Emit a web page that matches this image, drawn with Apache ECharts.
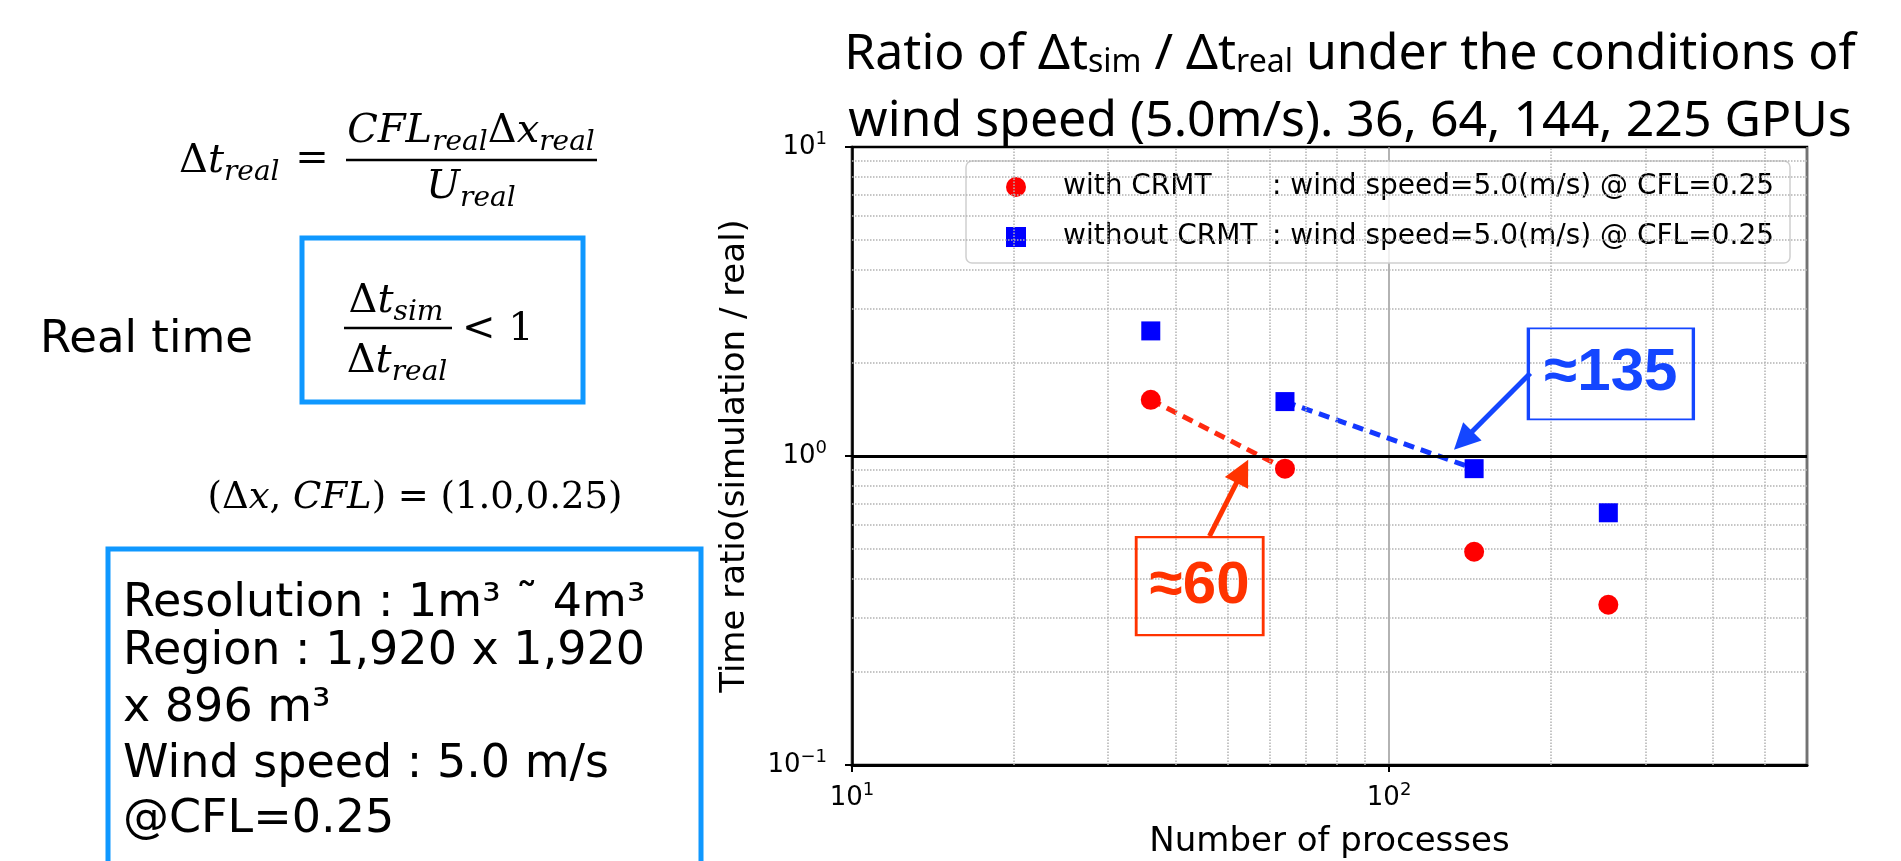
<!DOCTYPE html>
<html>
<head>
<meta charset="utf-8">
<title>Time ratio vs number of processes</title>
<script src="https://cdn.jsdelivr.net/npm/echarts@6/dist/echarts.min.js"></script>
<style>
  html, body { margin: 0; padding: 0; background: #fff; }
  #chart { width: 1901px; height: 861px; }
</style>
</head>
<body>
<div id="chart"></div>
<script>
// data
var processes = [36, 64, 144, 256];
var ratioWithCrmt = [1.52, 0.91, 0.49, 0.33];
var ratioWithoutCrmt = [2.54, 1.50, 0.91, 0.655];
var seriesNames = ['with CRMT', 'without CRMT'];
var legendTail = ': wind speed=5.0(m/s) @ CFL=0.25';

// grid lines / ticks
var xMinorGrid = [20, 30, 40, 50, 60, 70, 80, 90, 200, 300, 400, 500];
var yMinorGrid = [0.2, 0.3, 0.4, 0.5, 0.6, 0.7, 0.8, 0.9, 2, 3, 4, 5, 6, 7, 8, 9];
var realTimeLevel = [1];

// annotations (data coordinates)
var note60Text = '≈60';
var note60Box = [44.4, 0.379];
var note60Arrow = [[46.3, 0.55], [53.3, 0.892]];
var note135Text = '≈135';
var note135Box = [258.8, 1.845];
var note135Arrow = [[183.2, 1.852], [137.4, 1.122]];

function zip(xs, ys) {
  return xs.map(function (x, i) { return [x, ys[i]]; });
}

function powLabel(v) {
  var e = Math.round(Math.log10(v));
  if (Math.abs(Math.log10(v) - e) > 1e-6) return '';
  return '{b|10}{e|' + (e < 0 ? '\u2212' + (-e) : e) + '}';
}

var tickRich = {
  b: { fontFamily: 'DejaVu Sans', fontSize: 26, color: '#000' },
  e: { fontFamily: 'DejaVu Sans', fontSize: 18, color: '#000', padding: [0, 0, 16, 0] }
};

var mathRich = {
  m: { fontFamily: 'DejaVu Serif', fontSize: 40, fill: '#000', color: '#000' },
  i: { fontFamily: 'DejaVu Serif', fontStyle: 'italic', fontSize: 40, fill: '#000', color: '#000' },
  s: { fontFamily: 'DejaVu Serif', fontStyle: 'italic', fontSize: 28, fill: '#000', color: '#000', padding: [22, 0, 0, 0] }
};

var smallMathRich = {
  m: { fontFamily: 'DejaVu Serif', fontSize: 37, fill: '#000', color: '#000' },
  i: { fontFamily: 'DejaVu Serif', fontStyle: 'italic', fontSize: 37, fill: '#000', color: '#000' }
};

var titleRich = {
  u: { fontFamily: 'Noto Sans', fontSize: 32, fill: '#000', color: '#000', padding: [15, 0, 0, 0] }
};

function txt(x, y, text, opts) {
  opts = opts || {};
  var align = opts.align || 'left';
  return {
    type: 'text',
    x: x,
    y: y,
    silent: true,
    style: {
      text: text,
      fill: opts.color || '#000',
      fontFamily: opts.family || 'DejaVu Sans',
      fontSize: opts.size || 40,
      fontStyle: opts.style || 'normal',
      align: align,
      verticalAlign: 'middle',
      textAlign: align,
      textVerticalAlign: 'middle',
      rich: opts.rich
    }
  };
}

function bar(x1, x2, y) {
  return {
    type: 'line', silent: true,
    shape: { x1: x1, y1: y, x2: x2, y2: y },
    style: { stroke: '#000', lineWidth: 2.5 }
  };
}

function box(x, y, w, h) {
  return {
    type: 'rect', silent: true,
    shape: { x: x, y: y, width: w, height: h },
    style: { fill: 'none', stroke: '#0f98ff', lineWidth: 5 }
  };
}

var slideText = [
  // title
  txt(1350, 55, 'Ratio of \u0394t{u|sim} / \u0394t{u|real} under the conditions of',
    { align: 'center', family: 'Noto Sans', size: 50, rich: titleRich }),
  txt(1350, 122, 'wind speed (5.0m/s). 36, 64, 144, 225 GPUs',
    { align: 'center', family: 'Noto Sans', size: 50 }),

  // dt_real formula
  txt(179, 162, '{m|\u0394}{i|t}{s|real}', { rich: mathRich }),
  txt(312, 160, '{m|=}', { align: 'center', rich: mathRich }),
  txt(471, 132, '{i|CFL}{s|real}{m|\u0394}{i|x}{s|real}', { align: 'center', rich: mathRich }),
  bar(346, 597, 160),
  txt(471, 188, '{i|U}{s|real}', { align: 'center', rich: mathRich }),

  // real time condition
  txt(40, 340, 'Real time', { size: 45 }),
  box(302, 238, 281, 164),
  txt(396, 302, '{m|\u0394}{i|t}{s|sim}', { align: 'center', rich: mathRich }),
  bar(344, 452, 328),
  txt(397, 362, '{m|\u0394}{i|t}{s|real}', { align: 'center', rich: mathRich }),
  txt(462, 330, '{m|< 1}', { rich: mathRich }),

  txt(415, 498, '{m|(\u0394}{i|x}{m|, }{i|CFL}{m|) = (1.0,0.25)}', { align: 'center', rich: smallMathRich }),

  // run settings
  box(108, 549, 593, 400),
  txt(123, 604, 'Resolution : 1m\u00b3 \u02dc 4m\u00b3', { size: 46 }),
  txt(123, 652, 'Region : 1,920 x 1,920', { size: 46 }),
  txt(123, 709, 'x 896 m\u00b3', { size: 46 }),
  txt(123, 765, 'Wind speed : 5.0 m/s', { size: 46 }),
  txt(123, 820, '@CFL=0.25', { size: 46 })
];

var chart = echarts.init(document.getElementById('chart'), null, { renderer: 'canvas' });

chart.setOption({
  animation: false,
  backgroundColor: '#fff',
  graphic: slideText,
  grid: {
    left: 852, top: 147, right: 94, bottom: 96,
    containLabel: false,
    outerBoundsMode: 'none',
    show: true, borderColor: '#000', borderWidth: 2.5,
    backgroundColor: 'rgba(0,0,0,0)'
  },
  legend: {
    data: seriesNames,
    orient: 'vertical',
    left: 966, top: 161,
    padding: [12, 16, 12, 40],
    itemWidth: 20, itemHeight: 20, itemGap: 22,
    backgroundColor: 'rgba(255,255,255,0.8)',
    borderColor: '#cfcfcf', borderWidth: 1.5, borderRadius: 6,
    selectedMode: false,
    itemStyle: { opacity: 1 },
    formatter: function (name) { return '{a|' + name + '}{b|' + legendTail + '}'; },
    textStyle: {
      fontFamily: 'DejaVu Sans', fontSize: 28, color: '#000',
      rich: {
        a: { fontFamily: 'DejaVu Sans', fontSize: 28, color: '#000', width: 209, padding: [0, 0, 0, 32] },
        b: { fontFamily: 'DejaVu Sans', fontSize: 28, color: '#000' }
      }
    }
  },
  xAxis: {
    type: 'log', logBase: 10, min: 10, max: 600,
    name: 'Number of processes', nameLocation: 'middle', nameGap: 60,
    nameTextStyle: { fontFamily: 'DejaVu Sans', fontSize: 34, color: '#000' },
    axisLine: { show: true, lineStyle: { color: '#000', width: 3 } },
    axisTick: { show: true, length: 7, lineStyle: { color: '#000', width: 2 } },
    axisLabel: { margin: 16, formatter: powLabel, rich: tickRich, showMinLabel: true, showMaxLabel: false },
    splitLine: { show: true, lineStyle: { color: '#9a9a9a', width: 1.5, type: 'solid' } }
  },
  yAxis: {
    type: 'log', logBase: 10, min: 0.1, max: 10,
    name: 'Time ratio(simulation / real)', nameLocation: 'middle', nameGap: 100,
    nameTextStyle: { fontFamily: 'DejaVu Sans', fontSize: 34, color: '#000' },
    axisLine: { show: true, lineStyle: { color: '#000', width: 2.5 } },
    axisTick: { show: true, length: 7, lineStyle: { color: '#000', width: 2 } },
    axisLabel: { margin: 25, formatter: powLabel, rich: tickRich, showMinLabel: true, showMaxLabel: true },
    splitLine: { show: false }
  },
  series: [
    {
      name: 'minor-grid', type: 'line', data: [], silent: true, z: 1,
      markLine: {
        silent: true, symbol: 'none', animation: false,
        label: { show: false },
        lineStyle: { color: '#b3b3b3', type: 'dotted', width: 1.5 },
        data: xMinorGrid.map(function (v) { return { xAxis: v }; })
          .concat(yMinorGrid.map(function (v) { return { yAxis: v }; }))
      }
    },
    {
      name: 'real-time', type: 'line', data: [], silent: true, z: 2,
      markLine: {
        silent: true, symbol: 'none', animation: false,
        label: { show: false },
        lineStyle: { color: '#000', type: 'solid', width: 3 },
        data: realTimeLevel.map(function (v) { return { yAxis: v }; })
      }
    },
    {
      name: 'crmt-trend', type: 'line', z: 3, silent: true,
      data: zip(processes, ratioWithCrmt).slice(0, 2),
      symbol: 'none',
      lineStyle: { color: '#ff2a10', width: 5, type: [11, 7] },
      markLine: {
        silent: true, animation: false,
        symbol: ['none', 'triangle'], symbolSize: 26,
        label: { show: false },
        itemStyle: { color: '#ff3300' },
        lineStyle: { color: '#ff3300', type: 'solid', width: 5 },
        data: [[{ coord: note60Arrow[0] }, { coord: note60Arrow[1] }]]
      },
      markPoint: {
        silent: true, animation: false,
        symbol: 'rect', symbolSize: [127, 98],
        itemStyle: { color: 'rgba(255,255,255,0)', borderColor: '#ff3300', borderWidth: 2.5 },
        label: {
          show: true, position: 'inside', formatter: note60Text,
          color: '#ff3300', fontFamily: 'Liberation Sans', fontWeight: 'bold', fontSize: 60
        },
        data: [{ coord: note60Box }]
      }
    },
    {
      name: 'plain-trend', type: 'line', z: 3, silent: true,
      data: zip(processes, ratioWithoutCrmt).slice(1, 3),
      symbol: 'none',
      lineStyle: { color: '#1438ff', width: 5, type: [11, 7] },
      markLine: {
        silent: true, animation: false,
        symbol: ['none', 'triangle'], symbolSize: 26,
        label: { show: false },
        itemStyle: { color: '#1446ff' },
        lineStyle: { color: '#1446ff', type: 'solid', width: 5 },
        data: [[{ coord: note135Arrow[0] }, { coord: note135Arrow[1] }]]
      },
      markPoint: {
        silent: true, animation: false,
        symbol: 'rect', symbolSize: [165, 91],
        itemStyle: { color: 'rgba(255,255,255,0)', borderColor: '#1446ff', borderWidth: 2.5 },
        label: {
          show: true, position: 'inside', formatter: note135Text,
          color: '#1446ff', fontFamily: 'Liberation Sans', fontWeight: 'bold', fontSize: 60
        },
        data: [{ coord: note135Box }]
      }
    },
    {
      name: seriesNames[0], type: 'scatter', z: 5,
      symbol: 'circle', symbolSize: 20,
      itemStyle: { color: '#ff0000', opacity: 1 },
      data: zip(processes, ratioWithCrmt)
    },
    {
      name: seriesNames[1], type: 'scatter', z: 5,
      symbol: 'rect', symbolSize: 19,
      itemStyle: { color: '#0000ff', opacity: 1 },
      data: zip(processes, ratioWithoutCrmt)
    }
  ]
});

window.addEventListener('resize', function () { chart.resize(); });
</script>
</body>
</html>
